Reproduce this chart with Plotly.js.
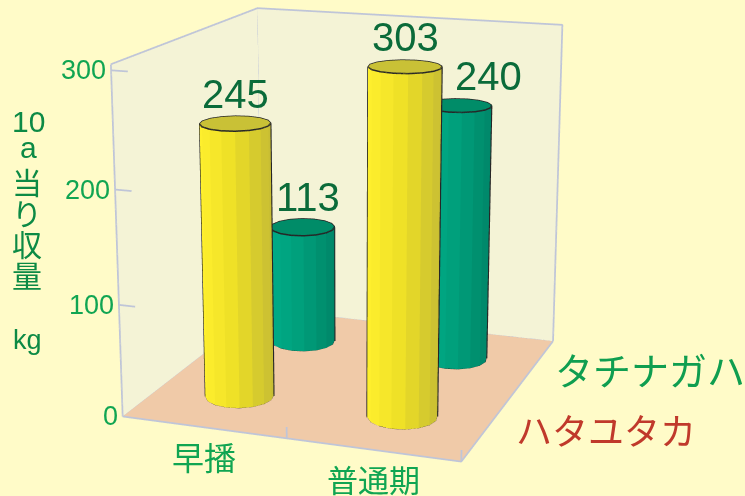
<!DOCTYPE html>
<html><head><meta charset="utf-8">
<script src="https://cdn.plot.ly/plotly-3.0.1.min.js"></script>
<style>html,body{margin:0;padding:0;background:#fffbc8;overflow:hidden;width:745px;height:496px}
#chart{position:absolute}</style></head>
<body><div id="chart"></div>
<script>
const categories = ['早播', '普通期'];
const seriesNames = ['ハタユタカ', 'タチナガハ'];
const hatayutaka = [245, 303];
const tachinagaha = [113, 240];
const zTicks = [0, 100, 200, 300];

const zMax = 305, xMax = categories.length, yMax = seriesNames.length;
// Plotly's field of view is fixed, so a flatter perspective needs a larger plot seen from further away.
const W = 2330, H = 1552, centerPx = {x: 350, y: 214};
const offL = centerPx.x - W / 2, offT = centerPx.y - H / 2;
const chartDiv = document.getElementById('chart');
chartDiv.style.left = offL + 'px'; chartDiv.style.top = offT + 'px';
chartDiv.style.width = W + 'px'; chartDiv.style.height = H + 'px';

const aspect = {x: 1.37, y: 1.44, z: 1.39};
const eye = {x: 2.42, y: -6.88, z: 1.955};
const SIDES = 16, R = 0.2;
const font = '"Liberation Sans", Arial, sans-serif';
const cjk = '"Noto Sans CJK JP", sans-serif';

function mix(a, b, t) {
  const c = a.map((v, i) => Math.round(v + (b[i] - v) * t));
  return 'rgb(' + c.join(',') + ')';
}
function cylinder(cx, cy, h, bright, mid, dark, cap) {
  const X = [], Y = [], Z = [], I = [], J = [], K = [], F = [];
  const view = Math.atan2(eye.y, eye.x);
  const rx = R, ry = R * aspect.x / aspect.y;
  for (let s = 0; s < SIDES; s++) {
    const a = 2 * Math.PI * s / SIDES;
    X.push(cx + rx * Math.cos(a), cx + rx * Math.cos(a));
    Y.push(cy + ry * Math.sin(a), cy + ry * Math.sin(a));
    Z.push(0, h);
  }
  for (let s = 0; s < SIDES; s++) {
    const n = (s + 1) % SIDES, a = 2 * Math.PI * (s + 0.5) / SIDES;
    const u = Math.sin(a - view);
    const col = u > 0 ? mix(mid, dark, u) : mix(mid, bright, -u);
    I.push(2 * s, 2 * s + 1); J.push(2 * n, 2 * n); K.push(2 * s + 1, 2 * n + 1);
    F.push(col, col);
  }
  const c = X.length;
  X.push(cx); Y.push(cy); Z.push(h);
  for (let s = 0; s < SIDES; s++) {
    const n = (s + 1) % SIDES;
    I.push(c); J.push(2 * s + 1); K.push(2 * n + 1); F.push(cap);
  }
  return {type: 'mesh3d', x: X, y: Y, z: Z, i: I, j: J, k: K, facecolor: F, flatshading: true,
    lighting: {ambient: 1, diffuse: 0, specular: 0, fresnel: 0, roughness: 1},
    hoverinfo: 'skip', showscale: false};
}
function outline(cx, cy, h) {
  const X = [], Y = [], Z = [];
  const rx = R, ry = R * aspect.x / aspect.y;
  [0, h].forEach(z => {
    for (let s = 0; s <= SIDES; s++) {
      const a = 2 * Math.PI * s / SIDES;
      X.push(cx + rx * Math.cos(a)); Y.push(cy + ry * Math.sin(a)); Z.push(z);
    }
    X.push(null); Y.push(null); Z.push(null);
  });
  const view = Math.atan2(eye.y, eye.x);
  [view + Math.PI / 2, view - Math.PI / 2].forEach(a => {
    X.push(cx + rx * Math.cos(a), cx + rx * Math.cos(a), null);
    Y.push(cy + ry * Math.sin(a), cy + ry * Math.sin(a), null);
    Z.push(0, h, null);
  });
  return {type: 'scatter3d', mode: 'lines', x: X, y: Y, z: Z, hoverinfo: 'skip', connectgaps: false,
    line: {color: '#262626', width: 3}};
}
function quad(xs, ys, zs, color) {
  return {type: 'mesh3d', x: xs, y: ys, z: zs, i: [0, 0], j: [1, 2], k: [2, 3], color: color,
    flatshading: true, opacity: 1, hoverinfo: 'skip', showscale: false,
    lighting: {ambient: 1, diffuse: 0, specular: 0, fresnel: 0, roughness: 1}};
}

const traces = [
  quad([0, xMax, xMax, 0], [0, 0, yMax, yMax], [0, 0, 0, 0], '#f0caa8'),
  quad([0, 0, 0, 0], [0, yMax, yMax, 0], [0, 0, zMax, zMax], '#f4f3d6'),
  quad([0, xMax, xMax, 0], [yMax, yMax, yMax, yMax], [0, 0, zMax, zMax], '#f4f3d6')
];
const fx = [0, xMax, xMax, 0, 0, null, 0, 0, xMax, xMax, null, 0, 0, null];
const fy = [0, 0, yMax, yMax, 0, null, 0, yMax, yMax, yMax, null, yMax, yMax, null];
const fz = [0, 0, 0, 0, 0, null, zMax, zMax, zMax, 0, null, 0, zMax, null];
fx.push(0, 0); fy.push(0, 0); fz.push(0, zMax);
zTicks.slice(1).forEach(t => { fx.push(null, 0, 0.1); fy.push(null, 0, 0); fz.push(null, t, t); });
for (let i = 1; i <= xMax; i++) { fx.push(null, i, i); fy.push(null, 0, 0); fz.push(null, 0, 10); }
traces.push({type: 'scatter3d', mode: 'lines', x: fx, y: fy, z: fz, hoverinfo: 'skip',
  line: {color: '#bfc5d8', width: 3.5}});

const yellow = [[255, 240, 45], [236, 222, 38], [200, 190, 52], '#c9c136'];
const green = [[0, 172, 136], [0, 158, 122], [0, 134, 104], '#008c68'];
categories.forEach((c, i) => {
  traces.push(cylinder(i + 0.5, 1.5, tachinagaha[i], green[0], green[1], green[2], green[3]));
  traces.push(outline(i + 0.5, 1.5, tachinagaha[i]));
  traces.push(cylinder(i + 0.5, 0.5, hatayutaka[i], yellow[0], yellow[1], yellow[2], yellow[3]));
  traces.push(outline(i + 0.5, 0.5, hatayutaka[i]));
});

const sceneAnn = [];
categories.forEach((c, i) => {
  [[hatayutaka, 0.5, 0], [tachinagaha, 1.5, i === 1 ? 30 : 5]].forEach(([arr, y, dx]) => {
    sceneAnn.push({x: i + 0.5, y: y, z: arr[i], text: String(arr[i]), showarrow: false,
      yanchor: 'bottom', yshift: 6, xshift: dx, font: {family: font, size: 40, color: '#0b6b3a'}});
  });
});
zTicks.forEach(t => sceneAnn.push({x: 0, y: 0, z: t, text: String(t), showarrow: false,
  xanchor: 'right', xshift: -3, font: {family: font, size: 27, color: '#10a552'}}));

function txt(t, x, y, size, color, family) {
  return {text: t, x: (x - offL) / W, y: 1 - (y - offT) / H, xref: 'paper', yref: 'paper',
    xanchor: 'center', yanchor: 'middle', showarrow: false,
    font: {family: family || cjk, size: size, color: color}};
}
const titleGreen = '#0c8a45', catGreen = '#10a552';
const annotations = [
  txt('10', 28, 121, 30, titleGreen, font),
  txt('a', 28, 148, 30, titleGreen, font),
  txt('当', 27, 181, 30, titleGreen),
  txt('り', 27, 212, 30, titleGreen),
  txt('収', 27, 243, 30, titleGreen),
  txt('量', 27, 274, 30, titleGreen),
  txt('kg', 27, 340, 27, titleGreen, font),
  txt(categories[0], 204, 456, 32, catGreen),
  txt(categories[1], 373, 478, 31, catGreen),
  txt(seriesNames[1], 650, 368, 38, '#0f9e50'),
  txt(seriesNames[0], 606, 429, 36, '#c0392b')
];

const axis = r => ({visible: false, range: r, autorange: false, showspikes: false});
const layout = {
  width: W, height: H, margin: {l: 0, r: 0, t: 0, b: 0},
  paper_bgcolor: '#fffbc8', showlegend: false, annotations: annotations,
  scene: {
    domain: {x: [0, 1], y: [0, 1]},
    bgcolor: 'rgba(0,0,0,0)',
    aspectmode: 'manual', aspectratio: aspect,
    camera: {eye: eye, center: {x: 0, y: 0, z: 0}, up: {x: 0, y: 0, z: 1},
      projection: {type: 'perspective'}},
    xaxis: axis([0, xMax]), yaxis: axis([0, yMax]), zaxis: axis([0, zMax]),
    annotations: sceneAnn
  }
};
Plotly.newPlot('chart', traces, layout, {displayModeBar: false});
</script></body></html>
